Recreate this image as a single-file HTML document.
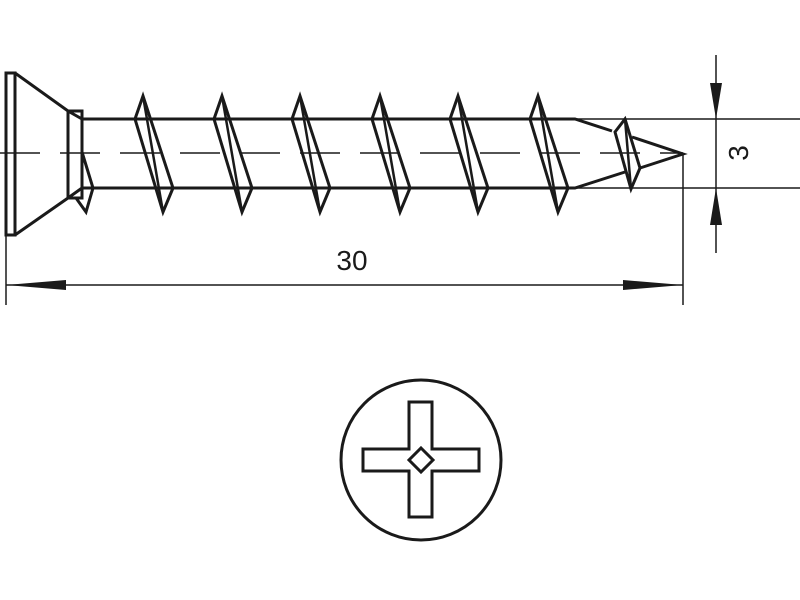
<!DOCTYPE html>
<html><head><style>body{margin:0;background:#fff}svg{display:block}</style></head><body>
<svg width="800" height="600" viewBox="0 0 800 600" xmlns="http://www.w3.org/2000/svg">
<g fill="none" stroke="#1a1a1a" stroke-width="3" stroke-linejoin="miter">
<rect x="6" y="73" width="9" height="162"/>
<polyline points="15,73 68,111 82,119"/>
<polyline points="15,235 68,198 82,188"/>
<rect x="68" y="111" width="14" height="87"/>
<polyline points="82,119 575,119 612,131"/>
<polyline points="82,188 575,188 625,172"/>
<polyline points="82,152 93,188 86,212 76,198"/>
<g id="t">
<polygon points="135,119 143,96 173,188 163,212"/>
<line x1="143" y1="96" x2="163" y2="212" stroke-width="2.5"/>
</g>
<use href="#t" x="79"/>
<use href="#t" x="157"/>
<use href="#t" x="237"/>
<use href="#t" x="315"/>
<use href="#t" x="395"/>
<polygon points="615,132 625,119 640,168 631,189"/>
<line x1="625" y1="119" x2="631" y2="189" stroke-width="2.5"/>
<polyline points="632,137 683,154 640,168"/>
</g>
<g stroke="#1a1a1a" stroke-width="1.5" fill="none">
<line x1="0" y1="153" x2="683" y2="153" stroke-dasharray="40,20"/>
<line x1="6" y1="235" x2="6" y2="305"/>
<line x1="683" y1="154" x2="683" y2="305"/>
<line x1="575" y1="119" x2="800" y2="119"/>
<line x1="575" y1="188" x2="800" y2="188"/>
<line x1="716" y1="55" x2="716" y2="253"/>
<line x1="6" y1="285" x2="683" y2="285"/>
</g>
<g fill="#1a1a1a">
<polygon points="6,285 66,280 66,290"/>
<polygon points="683,285 623,280 623,290"/>
<polygon points="716,119 710,83 722,83"/>
<polygon points="716,188 710,225 722,225"/>
</g>
<text x="352" y="270" font-family="Liberation Sans, sans-serif" font-size="28" text-anchor="middle" fill="#1a1a1a">30</text>
<text x="0" y="0" font-family="Liberation Sans, sans-serif" font-size="28" text-anchor="middle" fill="#1a1a1a" transform="translate(748,153) rotate(-90)">3</text>
<g fill="none" stroke="#1a1a1a" stroke-width="3">
<circle cx="421" cy="460" r="80"/>
<polygon points="409,402 432,402 432,449 479,449 479,471 432,471 432,517 409,517 409,471 363,471 363,449 409,449"/>
<polygon points="421,448 433,460 421,472 409,460"/>
</g>
</svg>
</body></html>
